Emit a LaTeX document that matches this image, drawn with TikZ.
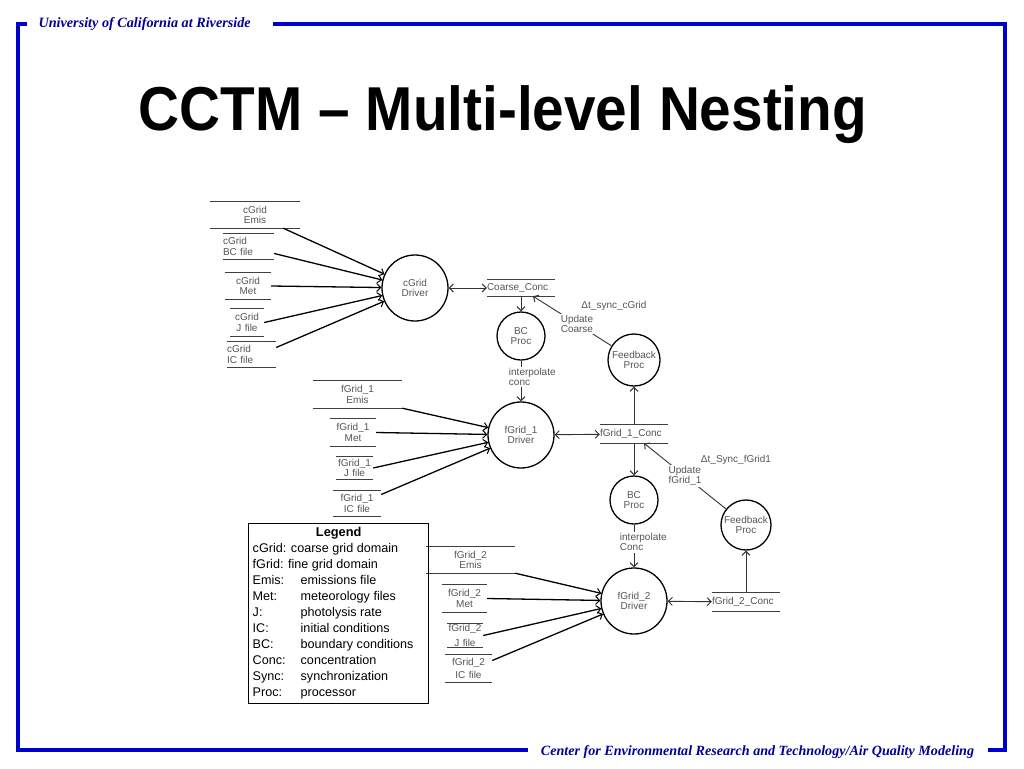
\documentclass[tikz,border=0pt]{standalone}
\usepackage{fontspec}
\setmainfont{Liberation Sans}
\newfontfamily\ucrserif{Liberation Serif}
\usepackage{graphicx}
\usepackage{tikz}
\usetikzlibrary{arrows.meta}
\usetikzlibrary{positioning}
\definecolor{ucrblue}{RGB}{0, 0, 204}
\definecolor{ucrnavy}{RGB}{0, 0, 150}
\definecolor{dfdgray}{RGB}{85, 85, 85}
\newcommand{\dfdfont}{\fontsize{10}{10.5}\selectfont}

\tikzset{
  >={Straight Barb[length=4pt, width=8pt, line width=1pt]},
  proc/.style={circle, draw=black, line width=1.3pt, minimum size=#1, inner sep=0pt,
               align=center, font=\dfdfont, text=dfdgray},
  store/.style 2 args={rectangle, minimum width=#1, text width=#1, minimum height=#2,
               inner sep=0pt, font=\dfdfont, text=dfdgray},
  storeline/.style={black!75, line width=0.8pt},
  feed/.style={->, black, line width=1.3pt},
  flow/.style={->, black!80, line width=0.9pt},
  both/.style={<->, black!80, line width=0.9pt},
  lbl/.style={fill=white, inner sep=1.5pt, align=left, font=\dfdfont, text=dfdgray},
  frame/.style={ucrblue, line width=4pt},
}

\begin{document}
\begin{tikzpicture}[x=1pt, y=-1pt]
            \useasboundingbox (0,0) rectangle (1024,768);
            % Slide frame
            \draw[frame] (27,24) -- (18,24) -- (18,750) -- (528,750);
            \draw[frame] (273,24) -- (1005,24) -- (1005,750) -- (988,750);
            \node[anchor=base west, text=ucrnavy, font=\ucrserif\bfseries\itshape\fontsize{14.2}{15}\selectfont]
                 (uni) at (35,28) {University of California at Riverside};
            \node[anchor=base, text=ucrnavy, font=\ucrserif\bfseries\itshape\fontsize{14.1}{15}\selectfont]
                 (cert) at (757.5,755) {Center for Environmental Research and Technology/Air Quality Modeling};
            \node[anchor=base, font=\fontsize{62}{62}\selectfont\bfseries]
                 (title) at (503,130) {\scalebox{0.915}[1]{CCTM \textendash\ Multi-level Nesting}};

            % cGrid level
            \node[proc=66pt]                            (cDrv)   at (415,288) {cGrid\\Driver};
            \node[store={90pt}{26pt}, align=center]     (cEmis)  at (255,215) {cGrid\\Emis};
            \node[store={51pt}{25pt}, align=left]       (cBC)    at (248.5,246.5) {cGrid\\BC file};
            \node[store={46pt}{26pt}, align=center]     (cMet)   at (248,286) {cGrid\\Met};
            \node[store={34pt}{27pt}, align=center]     (cJ)     at (247,322.5) {cGrid\\J file};
            \node[store={49pt}{25pt}, align=left]       (cIC)    at (251.5,354.5) {cGrid\\IC file};
            \node[store={68pt}{16pt}, align=left]       (coarse) at (521,288) {Coarse\_Conc};
            \node[proc=48pt]                            (bcA)    at (521,336) {BC\\Proc};
            \node[proc=52pt]                            (fbA)    at (634,360) {Feedback\\Proc};
            \node[font=\dfdfont, text=dfdgray]          (dtA)    at (614,306) {Δt\_sync\_cGrid};

            % fGrid_1 level
            \node[proc=66pt]                            (fDrvA)  at (521,435) {fGrid\_1\\Driver};
            \node[store={89pt}{27pt}, align=center]     (fEmisA) at (357.5,394.5) {fGrid\_1\\Emis};
            \node[store={46pt}{27pt}, align=center]     (fMetA)  at (353,432.5) {fGrid\_1\\Met};
            \node[store={37pt}{22pt}, align=center]     (fJA)    at (354.5,468) {fGrid\_1\\J file};
            \node[store={48pt}{25pt}, align=center]     (fICA)   at (357,503.5) {fGrid\_1\\IC file};
            \node[store={68pt}{18pt}, align=left]       (fConcA) at (634,434) {fGrid\_1\_Conc};
            \node[proc=48pt]                            (bcB)    at (634,500) {BC\\Proc};
            \node[proc=50pt]                            (fbB)    at (746,525) {Feedback\\Proc};
            \node[font=\dfdfont, text=dfdgray]          (dtB)    at (736,460) {Δt\_Sync\_fGrid1};

            % fGrid_2 level
            \node[proc=66pt]                            (fDrvB)  at (634,601) {fGrid\_2\\Driver};
            \node[store={89pt}{26pt}, align=center]     (fEmisB) at (470.5,560) {fGrid\_2\\Emis};
            \node[store={45pt}{27pt}, align=center]     (fMetB)  at (464.5,598.5) {fGrid\_2\\Met};
            \node[store={36pt}{23pt}, align=center]     (fJB)    at (465,635.5) {fGrid\_2\\[4pt]J file};
            \node[store={47pt}{27pt}, align=center]     (fICB)   at (468.5,668.5) {fGrid\_2\\[3pt]IC file};
            \node[store={68pt}{18pt}, align=left]       (fConcB) at (746,602) {fGrid\_2\_Conc};

            % Store lines
            \draw[storeline] (cEmis.north west)  -- (cEmis.north east)  (cEmis.south west)  -- (cEmis.south east);
            \draw[storeline] (cBC.north west)    -- (cBC.north east)    (cBC.south west)    -- (cBC.south east);
            \draw[storeline] (cMet.north west)   -- (cMet.north east)   (cMet.south west)   -- (cMet.south east);
            \draw[storeline] (cJ.north west)     -- (cJ.north east)     (cJ.south west)     -- (cJ.south east);
            \draw[storeline] (cIC.north west)    -- (cIC.north east)    (cIC.south west)    -- (cIC.south east);
            \draw[storeline] (coarse.north west) -- (coarse.north east) (coarse.south west) -- (coarse.south east);
            \draw[storeline] (fEmisA.north west) -- (fEmisA.north east) (fEmisA.south west) -- (fEmisA.south east);
            \draw[storeline] (fMetA.north west)  -- (fMetA.north east)  (fMetA.south west)  -- (fMetA.south east);
            \draw[storeline] (fJA.north west)    -- (fJA.north east)    (fJA.south west)    -- (fJA.south east);
            \draw[storeline] (fICA.north west)   -- (fICA.north east)   (fICA.south west)   -- (fICA.south east);
            \draw[storeline] (fConcA.north west) -- (fConcA.north east) (fConcA.south west) -- (fConcA.south east);
            \draw[storeline] (fEmisB.north west) -- (fEmisB.north east) (fEmisB.south west) -- (fEmisB.south east);
            \draw[storeline] (fMetB.north west)  -- (fMetB.north east)  (fMetB.south west)  -- (fMetB.south east);
            \draw[storeline] (fJB.north west)    -- (fJB.north east)    (fJB.south west)    -- (fJB.south east);
            \draw[storeline] (fICB.north west)   -- (fICB.north east)   (fICB.south west)   -- (fICB.south east);
            \draw[storeline] (fConcB.north west) -- (fConcB.north east) (fConcB.south west) -- (fConcB.south east);

            % Inputs to drivers
            \draw[feed] ([xshift=-17pt]cEmis.south east) -- (cDrv);
            \draw[feed] ([yshift=-7pt]cBC.east)          -- (cDrv);
            \draw[feed] (cMet.east)                      -- (cDrv);
            \draw[feed] (cJ.east)                        -- (cDrv);
            \draw[feed] ([yshift=7pt]cIC.east)           -- (cDrv);
            \draw[feed] (fEmisA.south east)              -- (fDrvA);
            \draw[feed] (fMetA.east)                     -- (fDrvA);
            \draw[feed] (fJA.east)                       -- (fDrvA);
            \draw[feed] ([yshift=9pt]fICA.east)          -- (fDrvA);
            \draw[feed] (fEmisB.south east)              -- (fDrvB);
            \draw[feed] (fMetB.east)                     -- (fDrvB);
            \draw[feed] (fJB.east)                       -- (fDrvB);
            \draw[feed] ([yshift=8pt]fICB.east)          -- (fDrvB);

            % Nesting flows
            \draw[both] (cDrv)   -- (coarse);
            \draw[flow] (coarse) -- (bcA);
            \draw[flow] (fbA)    -- ([xshift=12pt]coarse.south)
                 node[lbl, pos=0.44] {Update\\Coarse};
            \draw[flow] (bcA)    -- (fDrvA)
                 node[lbl, pos=0.4, anchor=west, xshift=-14pt] {interpolate\\conc};
            \draw[both] (fDrvA)  -- (fConcA);
            \draw[flow] (fConcA) -- (fbA);
            \draw[flow] (fConcA) -- (bcB);
            \draw[flow] (fbB)    -- ([xshift=10pt]fConcA.south)
                 node[lbl, pos=0.5] {Update\\fGrid\_1};
            \draw[flow] (bcB)    -- (fDrvB)
                 node[lbl, pos=0.41, anchor=west, xshift=-16pt] {interpolate\\Conc};
            \draw[both] (fDrvB)  -- (fConcB);
            \draw[flow] (fConcB) -- (fbB);

            % Legend
            \node[draw=black, line width=1.4pt, anchor=north west, inner xsep=3pt, inner ysep=2pt,
                  minimum width=180pt, minimum height=179pt, font=\fontsize{12.6}{16}\selectfont]
                 (leg) at (248,523) {%
                 \begin{tabular}{@{}p{48pt}@{}p{124pt}@{}}
                 \multicolumn{2}{@{}c@{}}{\bfseries\fontsize{12.8}{16}\selectfont Legend}\\
                 \multicolumn{2}{@{}l@{}}{cGrid: coarse grid domain}\\
                 \multicolumn{2}{@{}l@{}}{fGrid: fine grid domain}\\
                 Emis: & emissions file\\
                 Met:  & meteorology files\\
                 J:    & photolysis rate\\
                 IC:   & initial conditions\\
                 BC:   & boundary conditions\\
                 Conc: & concentration\\
                 Sync: & synchronization\\
                 Proc: & processor
                 \end{tabular}};
\end{tikzpicture}
\end{document}
